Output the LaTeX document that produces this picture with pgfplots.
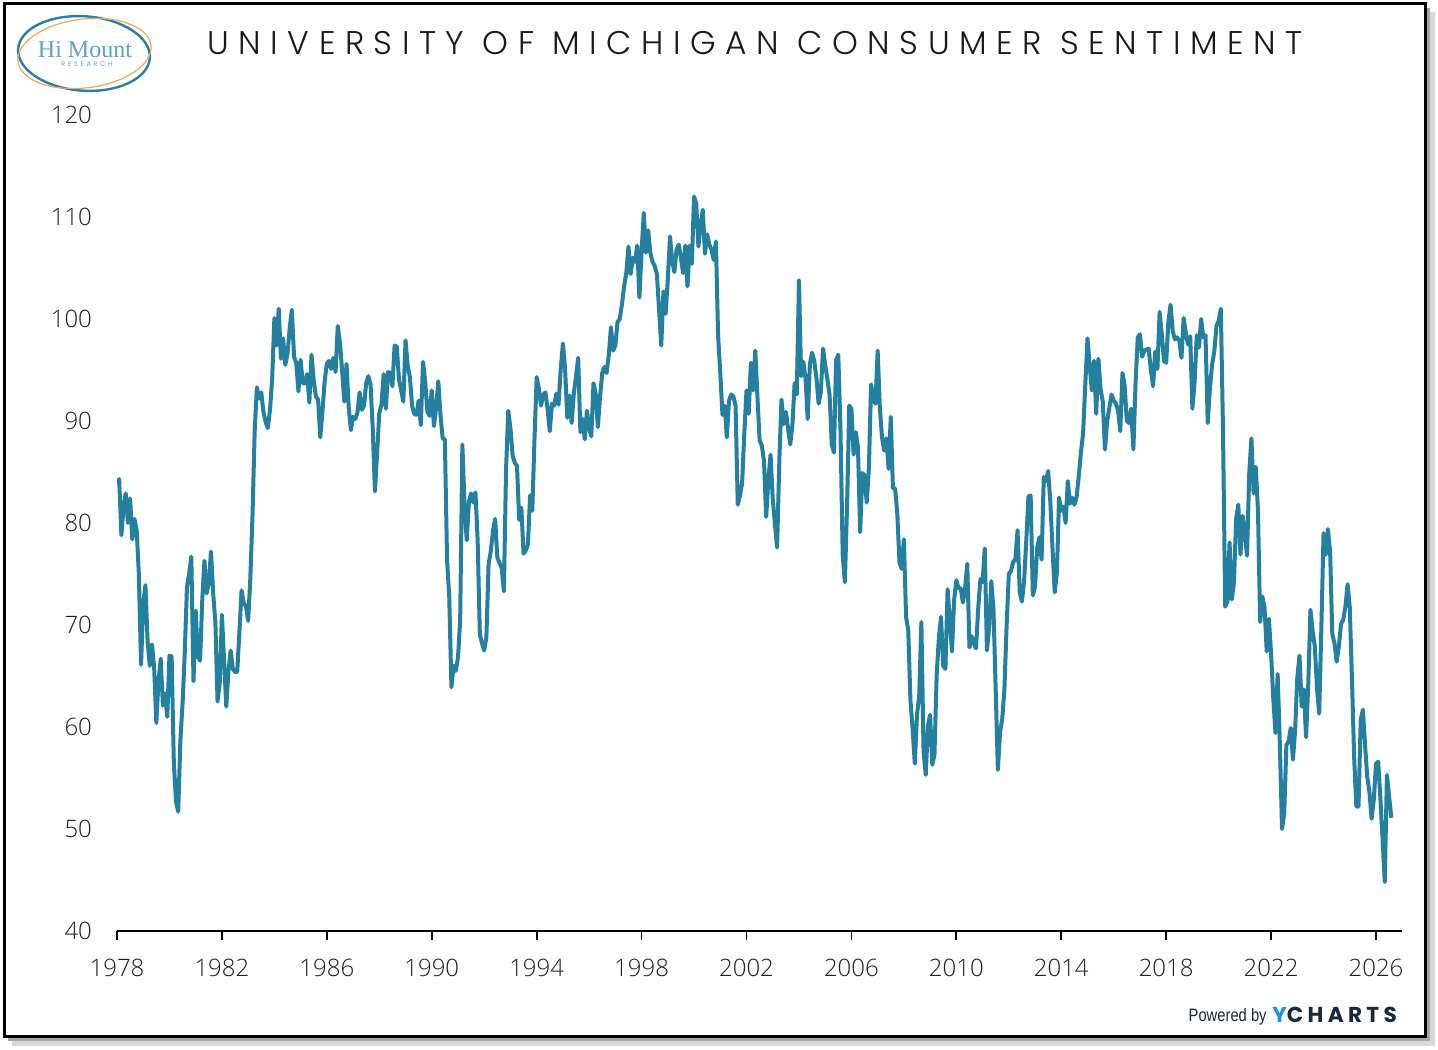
\documentclass[border=0pt]{standalone}
\usepackage{fontspec}
\usepackage{pgfplots}
\pgfplotsset{compat=1.18}
\usepackage{pgfplotstable}
\setmainfont{Open Sans}[UprightFont={* Light}]
\newfontfamily\titlefont{Poppins}[UprightFont={* Light}, LetterSpace=29]
\newfontfamily\logofont{Liberation Serif}
\newfontfamily\smallspaced{Poppins}[LetterSpace=40]
\newfontfamily\ychfont{Poppins}[UprightFont={* Bold}, LetterSpace=20]
\newfontfamily\pbfont{Liberation Sans}[FakeStretch=0.82]
\definecolor{linec}{HTML}{2580A0}
\definecolor{logoblue}{HTML}{2A7FA8}
\definecolor{logoorange}{HTML}{F2A654}
\definecolor{logotext}{HTML}{5AA2C6}
\definecolor{ychblue}{HTML}{1E90E8}
\definecolor{ychdark}{HTML}{1B2838}

\pgfplotstableread[row sep=\\]{
v\\
83.7\\ 84.3\\ 78.8\\ 81.6\\ 82.9\\ 80.0\\ 82.4\\ 78.4\\ 80.4\\ 79.3\\ 75.0\\ 66.1\\
72.1\\ 73.9\\ 68.4\\ 66.0\\ 68.1\\ 65.8\\ 60.4\\ 64.5\\ 66.7\\ 62.1\\ 63.3\\ 61.0\\
67.0\\ 66.9\\ 56.5\\ 52.7\\ 51.7\\ 58.7\\ 62.3\\ 67.3\\ 73.7\\ 75.0\\ 76.7\\ 64.5\\
71.4\\ 66.9\\ 66.5\\ 72.4\\ 76.3\\ 73.1\\ 74.1\\ 77.2\\ 73.1\\ 70.3\\ 62.5\\ 64.3\\
71.0\\ 66.5\\ 62.0\\ 65.5\\ 67.5\\ 65.7\\ 65.4\\ 65.4\\ 69.3\\ 73.4\\ 72.1\\ 71.9\\
70.4\\ 74.6\\ 80.8\\ 89.1\\ 93.3\\ 92.2\\ 92.8\\ 90.9\\ 89.9\\ 89.3\\ 91.1\\ 94.2\\
100.1\\ 97.4\\ 101.0\\ 96.1\\ 98.1\\ 95.5\\ 96.6\\ 99.1\\ 100.9\\ 96.3\\ 95.7\\ 92.9\\
96.0\\ 93.7\\ 93.7\\ 94.6\\ 91.8\\ 96.5\\ 94.0\\ 92.4\\ 92.1\\ 88.4\\ 90.9\\ 93.9\\
95.6\\ 95.9\\ 95.1\\ 96.2\\ 94.8\\ 99.3\\ 97.7\\ 94.9\\ 91.9\\ 95.6\\ 91.4\\ 89.1\\
90.4\\ 90.2\\ 90.8\\ 92.8\\ 91.1\\ 91.5\\ 93.7\\ 94.4\\ 93.6\\ 89.3\\ 83.1\\ 86.8\\
90.8\\ 91.6\\ 94.6\\ 91.2\\ 94.8\\ 94.7\\ 93.4\\ 97.4\\ 97.3\\ 94.1\\ 93.0\\ 91.9\\
97.9\\ 95.4\\ 94.3\\ 91.5\\ 90.7\\ 90.6\\ 92.0\\ 89.6\\ 95.8\\ 93.9\\ 90.9\\ 90.5\\
93.0\\ 89.5\\ 91.3\\ 93.9\\ 90.6\\ 88.3\\ 88.2\\ 76.4\\ 72.8\\ 63.9\\ 66.0\\ 65.5\\
66.8\\ 70.4\\ 87.7\\ 81.8\\ 78.3\\ 82.1\\ 82.9\\ 82.0\\ 83.0\\ 78.3\\ 69.1\\ 68.2\\
67.5\\ 68.8\\ 76.0\\ 77.2\\ 79.2\\ 80.4\\ 76.6\\ 76.1\\ 75.6\\ 73.3\\ 85.3\\ 91.0\\
89.3\\ 86.6\\ 85.9\\ 85.6\\ 80.3\\ 81.5\\ 77.0\\ 77.3\\ 77.9\\ 82.7\\ 81.2\\ 88.2\\
94.3\\ 93.2\\ 91.5\\ 92.6\\ 92.8\\ 91.2\\ 89.0\\ 91.7\\ 91.5\\ 92.7\\ 91.6\\ 95.1\\
97.6\\ 95.1\\ 90.3\\ 92.5\\ 89.8\\ 92.7\\ 94.4\\ 96.2\\ 88.9\\ 90.2\\ 88.2\\ 91.0\\
89.3\\ 88.5\\ 93.7\\ 92.7\\ 89.4\\ 92.4\\ 94.7\\ 95.3\\ 94.7\\ 96.5\\ 99.2\\ 96.9\\
97.4\\ 99.7\\ 100.0\\ 101.4\\ 103.2\\ 104.5\\ 107.1\\ 104.4\\ 106.0\\ 105.6\\ 107.2\\ 102.1\\
106.6\\ 110.4\\ 106.5\\ 108.7\\ 106.5\\ 105.6\\ 105.2\\ 104.4\\ 100.9\\ 97.4\\ 102.7\\ 100.5\\
103.9\\ 108.1\\ 105.7\\ 104.6\\ 106.8\\ 107.3\\ 106.0\\ 104.5\\ 107.2\\ 103.2\\ 107.2\\ 105.4\\
112.0\\ 111.3\\ 107.1\\ 109.2\\ 110.7\\ 106.4\\ 108.3\\ 107.3\\ 106.8\\ 105.8\\ 107.6\\ 98.4\\
94.7\\ 90.6\\ 91.5\\ 88.4\\ 92.0\\ 92.6\\ 92.4\\ 91.5\\ 81.8\\ 82.7\\ 83.9\\ 88.8\\
93.0\\ 90.7\\ 95.7\\ 93.0\\ 96.9\\ 92.4\\ 88.1\\ 87.6\\ 86.1\\ 80.6\\ 84.2\\ 86.7\\
82.4\\ 79.9\\ 77.6\\ 86.0\\ 92.1\\ 89.7\\ 90.9\\ 89.3\\ 87.7\\ 89.6\\ 93.7\\ 92.6\\
103.8\\ 94.4\\ 95.8\\ 94.2\\ 90.2\\ 95.6\\ 96.7\\ 95.9\\ 94.2\\ 91.7\\ 92.8\\ 97.1\\
95.5\\ 94.1\\ 92.6\\ 87.7\\ 86.9\\ 96.0\\ 96.5\\ 89.1\\ 76.9\\ 74.2\\ 81.6\\ 91.5\\
91.2\\ 86.7\\ 88.9\\ 87.4\\ 79.1\\ 84.9\\ 84.7\\ 82.0\\ 85.4\\ 93.6\\ 92.1\\ 91.7\\
96.9\\ 91.3\\ 88.4\\ 87.1\\ 88.3\\ 85.3\\ 90.4\\ 83.4\\ 83.4\\ 80.9\\ 76.1\\ 75.5\\
78.4\\ 70.8\\ 69.5\\ 62.6\\ 59.8\\ 56.4\\ 61.2\\ 63.0\\ 70.3\\ 57.6\\ 55.3\\ 60.1\\
61.2\\ 56.3\\ 57.3\\ 65.1\\ 68.7\\ 70.8\\ 66.0\\ 65.7\\ 73.5\\ 70.6\\ 67.4\\ 72.5\\
74.4\\ 73.6\\ 73.6\\ 72.2\\ 73.6\\ 76.0\\ 67.8\\ 68.9\\ 68.2\\ 67.7\\ 71.6\\ 74.5\\
74.2\\ 77.5\\ 67.5\\ 69.8\\ 74.3\\ 71.5\\ 63.7\\ 55.8\\ 59.5\\ 60.8\\ 63.7\\ 69.9\\
75.0\\ 75.3\\ 76.2\\ 76.4\\ 79.3\\ 73.2\\ 72.3\\ 74.3\\ 78.3\\ 82.6\\ 82.7\\ 72.9\\
73.8\\ 77.6\\ 78.6\\ 76.4\\ 84.5\\ 84.1\\ 85.1\\ 82.1\\ 77.5\\ 73.2\\ 75.1\\ 82.5\\
81.2\\ 81.6\\ 80.0\\ 84.1\\ 81.9\\ 82.5\\ 81.8\\ 82.5\\ 84.6\\ 86.9\\ 88.8\\ 93.6\\
98.1\\ 95.4\\ 93.0\\ 95.9\\ 90.7\\ 96.1\\ 93.1\\ 91.9\\ 87.2\\ 90.0\\ 91.3\\ 92.6\\
92.0\\ 91.7\\ 91.0\\ 89.0\\ 94.7\\ 93.5\\ 90.0\\ 89.8\\ 91.2\\ 87.2\\ 93.8\\ 98.2\\
98.5\\ 96.3\\ 96.9\\ 97.0\\ 97.1\\ 95.0\\ 93.4\\ 96.8\\ 95.1\\ 100.7\\ 98.5\\ 95.9\\
95.7\\ 99.7\\ 101.4\\ 98.8\\ 98.0\\ 98.2\\ 97.9\\ 96.2\\ 100.1\\ 98.6\\ 97.5\\ 98.3\\
91.2\\ 93.8\\ 98.4\\ 97.2\\ 100.0\\ 98.2\\ 98.4\\ 89.8\\ 93.2\\ 95.5\\ 96.8\\ 99.3\\
99.8\\ 101.0\\ 89.1\\ 71.8\\ 72.3\\ 78.1\\ 72.5\\ 74.1\\ 80.4\\ 81.8\\ 76.9\\ 80.7\\
79.0\\ 76.8\\ 84.9\\ 88.3\\ 82.9\\ 85.5\\ 81.2\\ 70.3\\ 72.8\\ 71.7\\ 67.4\\ 70.6\\
67.2\\ 62.8\\ 59.4\\ 65.2\\ 58.4\\ 50.0\\ 51.5\\ 58.2\\ 58.6\\ 59.9\\ 56.8\\ 59.7\\
64.9\\ 67.0\\ 62.0\\ 63.7\\ 59.0\\ 64.2\\ 71.5\\ 69.4\\ 67.9\\ 63.8\\ 61.3\\ 69.7\\
79.0\\ 76.9\\ 79.4\\ 77.2\\ 69.1\\ 68.2\\ 66.4\\ 67.9\\ 70.1\\ 70.5\\ 71.8\\ 74.0\\
71.7\\ 64.7\\ 57.0\\ 52.2\\ 52.2\\ 60.7\\ 61.7\\ 58.2\\ 55.1\\ 53.6\\ 51.0\\ 52.9\\
56.4\\ 56.6\\ 53.0\\ 49.0\\ 44.8\\ 55.3\\ 53.2\\ 51.1\\
}\umcs

\begin{document}
\begin{tikzpicture}
\useasboundingbox (0,0) rectangle (719pt,524.5pt);
\begin{scope}[x=0.5pt,y=-0.5pt,shift={(0pt,524.5pt)}]
  % frame with shadow
  \fill[black!15] (12,12) rectangle (1435,1046);
  \fill[black!35] (8,8) rectangle (1430,1041);
  \draw[line width=1.5pt, fill=white] (4,4) rectangle (1425,1036);
  % logo
  \draw[logoblue, line width=1.2pt, rotate around={-4:(84,53.5)}] (84,53.5) ellipse [x radius=33pt, y radius=18.6pt];
  \draw[logoorange, line width=0.6pt, rotate around={7:(84.5,53.5)}] (84.5,53.5) ellipse [x radius=33.5pt, y radius=17.2pt];
  \node[logotext, font=\logofont\fontsize{12}{13}\selectfont, inner sep=0pt] at (85,50) {Hi Mount};
  \node[logotext, font=\smallspaced\fontsize{3.3}{4}\selectfont, inner sep=0pt] at (87,64) {RESEARCH};
  % title
  \node[font=\titlefont\fontsize{16.4}{18}\selectfont, text=black!90, inner sep=0pt] at (755,43) {UNIVERSITY OF MICHIGAN CONSUMER SENTIMENT};
  % powered by
  \node[anchor=base east, font=\pbfont\fontsize{9}{10}\selectfont, text=ychdark, inner sep=0pt] at (1267,1021) {Powered by};
  \node[anchor=base west, font=\ychfont\fontsize{10.8}{12}\selectfont, inner sep=0pt] at (1272,1022) {\textcolor{ychblue}{Y}\textcolor{ychdark}{CHARTS}};
\end{scope}
\begin{axis}[
  at={(58.5pt,59pt)}, anchor=south west,
  scale only axis, width=642.35pt, height=408pt,
  xmin=1978, xmax=2026.98, ymin=40, ymax=120,
  axis x line*=bottom, axis y line*=left,
  y axis line style={draw=none},
  x axis line style={line width=0.9pt, black},
  xtick={1978,1982,...,2026}, ytick={40,50,...,120},
  /pgf/number format/set thousands separator={},
  /pgf/number format/assume math mode=true,
  tick label style={font=\fontsize{12}{14}\selectfont, text=black!88},
  xtick align=outside, major tick length=4.5pt,
  xtick style={line width=0.9pt, black},
  ytick style={draw=none},
  yticklabel style={xshift=-9pt},
  xticklabel style={yshift=-6pt},
]
\addplot[linec, line width=2pt, line join=round] table[x expr={1978+\coordindex/12}, y index=0] {\umcs};
\end{axis}
\end{tikzpicture}
\end{document}
